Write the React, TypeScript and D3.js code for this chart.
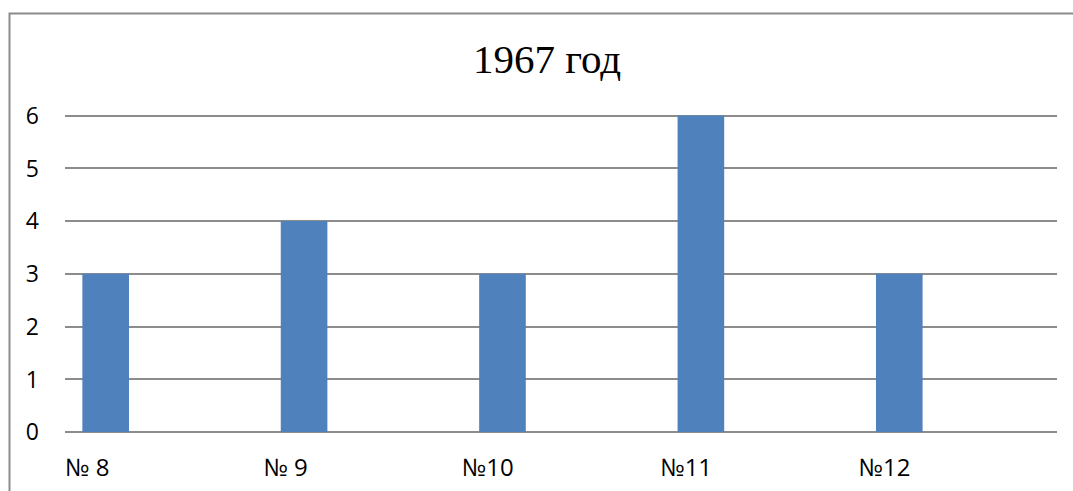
import React, { useRef, useEffect } from 'react';
import * as d3 from 'd3';

const categories = ['№ 8', '№ 9', '№10', '№11', '№12'];
const values = [3, 4, 3, 6, 3];
const yTicks = [0, 1, 2, 3, 4, 5, 6];
const title = '1967 год';

const App: React.FC = () => {
  const svgRef = useRef<SVGSVGElement>(null);
  const width = 1073;
  const height = 491;

  useEffect(() => {
    document.body.style.margin = '0';
    if (!svgRef.current) return;
    const svg = d3.select(svgRef.current);
    svg.selectAll('*').remove();

    const plot = { left: 65, right: 1057, top: 115.5, bottom: 432 };

    const x = d3
      .scaleBand<string>()
      .domain(categories)
      .range([plot.left, plot.right])
      .paddingInner(0)
      .paddingOuter(0);

    const y = d3.scaleLinear().domain([0, 6]).range([plot.bottom, plot.top]);

    // chart frame (runs past the right/bottom edge)
    svg
      .append('rect')
      .attr('x', 9.5)
      .attr('y', 13.5)
      .attr('width', width + 20)
      .attr('height', height + 20)
      .attr('fill', 'white')
      .attr('stroke', '#8c8c8c')
      .attr('stroke-width', 2);

    // title
    svg
      .append('text')
      .attr('x', 547)
      .attr('y', 73)
      .attr('text-anchor', 'middle')
      .attr('font-family', '"Liberation Serif", "Times New Roman", serif')
      .attr('font-size', 41)
      .attr('fill', '#000')
      .text(title);

    // gridlines
    svg
      .append('g')
      .selectAll('line')
      .data(yTicks)
      .enter()
      .append('line')
      .attr('x1', plot.left)
      .attr('x2', plot.right)
      .attr('y1', (d) => Math.round(y(d)))
      .attr('y2', (d) => Math.round(y(d)))
      .attr('stroke', '#8c8c8c')
      .attr('stroke-width', 2);

    // y tick labels
    svg
      .append('g')
      .selectAll('text')
      .data(yTicks)
      .enter()
      .append('text')
      .attr('x', 39)
      .attr('y', (d) => y(d))
      .attr('dy', '0.36em')
      .attr('text-anchor', 'end')
      .attr('font-family', '"Open Sans", sans-serif')
      .attr('font-size', 23)
      .attr('fill', '#000')
      .text((d) => String(d));

    // bars
    const bw = x.bandwidth();
    svg
      .append('g')
      .selectAll('rect')
      .data(values)
      .enter()
      .append('rect')
      .attr('x', (d, i) => (x(categories[i]) ?? 0) + bw * 0.0875)
      .attr('y', (d) => y(d))
      .attr('width', bw * 0.235)
      .attr('height', (d) => plot.bottom - y(d))
      .attr('fill', '#4f81bd');

    // x labels
    svg
      .append('g')
      .selectAll('text')
      .data(categories)
      .enter()
      .append('text')
      .attr('x', (d) => x(d) ?? 0)
      .attr('y', 476)
      .attr('font-family', '"Open Sans", sans-serif')
      .attr('font-size', 24)
      .attr('fill', '#000')
      .text((d) => d);
  }, []);

  return <svg ref={svgRef} width={width} height={height} style={{ display: 'block' }} />;
};

export default App;
